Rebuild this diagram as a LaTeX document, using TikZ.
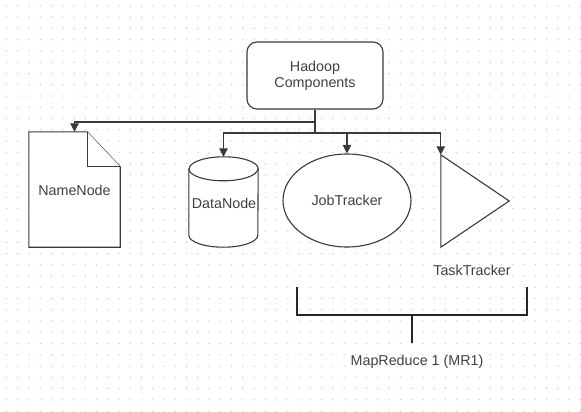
\documentclass[tikz,border=0pt]{standalone}
\usepackage{fontspec}
\setmainfont{Liberation Sans}
\usetikzlibrary{arrows.meta,shapes.geometric,calc}
\definecolor{linec}{HTML}{3A3A3A}
\definecolor{textc}{HTML}{404040}
\definecolor{dotc}{HTML}{CACACA}
\begin{document}
\begin{tikzpicture}[x=1pt,y=-1pt,
  lbl/.style={text=textc,font=\fontsize{14.3}{16}\selectfont,inner sep=0pt},
  shp/.style={draw=linec,line width=1.1pt,fill=white},
  holder/.style={draw=none,inner sep=0pt,rectangle},
  conn/.style={draw=linec,line width=1.1pt,-{Triangle[length=8.5pt,width=8.5pt]}},
  brk/.style={draw=black!85,line width=2pt}]
\useasboundingbox (0,0) rectangle (581,412);
\fill[white] (0,0) rectangle (581,412);
\foreach \i in {0,...,51}{\foreach \j in {0,...,36}{\fill[dotc] ({6.5+11.25*\i},{6+11.25*\j}) circle (0.75pt);}}
% Hadoop components
\node[shp,rounded corners=10pt,minimum width=136pt,minimum height=67pt,align=center,lbl,inner sep=0pt] (hc) at (315,75.5) {Hadoop\\[0pt]Components};
% NameNode (document)
\node[holder,minimum width=91pt,minimum height=115pt] (nn) at (74.5,189.5) {};
\filldraw[shp] (nn.north west) -- (nn.south west) -- (nn.south east) -- ([yshift=-35pt]nn.north east) -- ([xshift=-33pt]nn.north east) -- cycle;
\draw[shp] ([xshift=-33pt]nn.north east) -- ([xshift=-33pt,yshift=-35pt]nn.north east) -- ([yshift=-35pt]nn.north east);
\node[lbl] (nnl) at (74.5,190) {NameNode};
% DataNode (cylinder)
\node[holder,minimum width=69pt,minimum height=90pt] (dn) at (223.5,202) {};
\filldraw[shp] ([yshift=-12pt]dn.north west) -- ([yshift=12pt]dn.south west) arc[start angle=180,end angle=360,x radius=34.5pt,y radius=12pt] -- ([yshift=-12pt]dn.north east) arc[start angle=0,end angle=180,x radius=34.5pt,y radius=12pt] -- cycle;
\draw[shp,fill=none] ([yshift=-12pt]dn.north west) arc[start angle=180,end angle=360,x radius=34.5pt,y radius=12pt];
\node[lbl] (dnl) at (224,203) {DataNode};
% JobTracker (ellipse)
\node[shp,ellipse,minimum width=128pt,minimum height=93pt,inner sep=0pt,lbl] (jt) at (347,200.5) {JobTracker};
% TaskTracker (triangle)
\node[holder,minimum width=68pt,minimum height=92pt] (tt) at (475,201) {};
\filldraw[shp] (tt.north west) -- (tt.east) -- (tt.south west) -- cycle;
\node[lbl] (ttl) at (472,270) {TaskTracker};
% connectors
\coordinate (k) at (315,122);
\coordinate (j) at (315,133);
\draw[conn] (hc.south) -- (k) -| (nn.north);
\draw[conn] (hc.south) -- (j) -| (dn.north);
\draw[conn] (j) -| (jt.north);
\draw[conn] (j) -| (tt.north west);
% bracket
\coordinate (b1) at (297,287);
\coordinate (b2) at (527,287);
\coordinate (bm) at (412,315);
\coordinate (bs) at (412,343);
\draw[brk] (b1) |- (bm) -| (b2);
\draw[brk] (bm) -- (bs);
\node[lbl] (mr) at (417,362) {MapReduce 1 (MR1)};
\end{tikzpicture}
\end{document}
